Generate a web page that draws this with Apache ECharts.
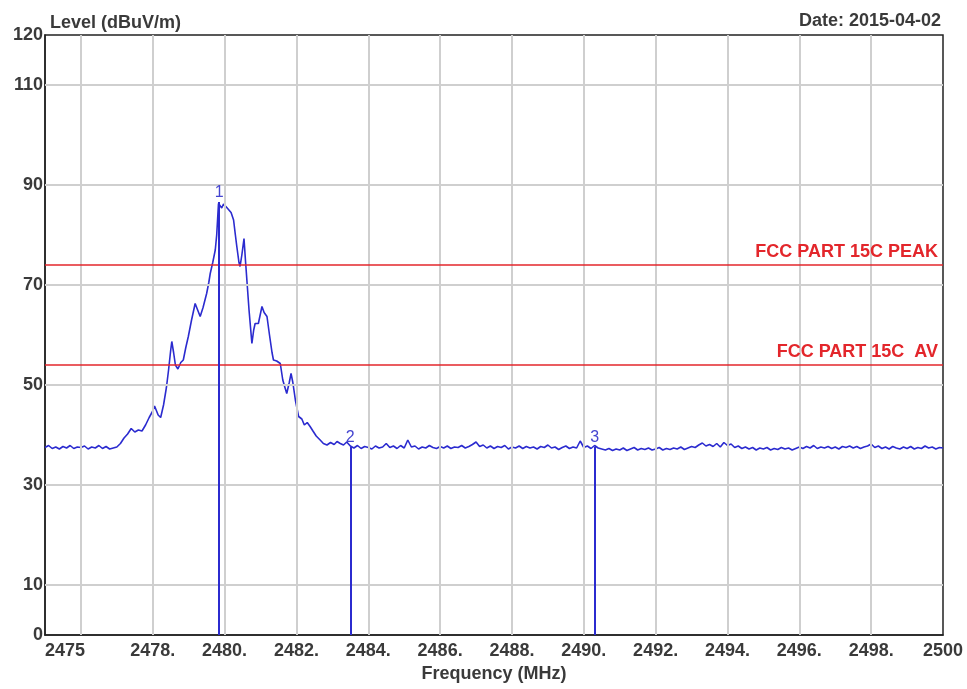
<!DOCTYPE html>
<html>
<head>
<meta charset="utf-8">
<script src="https://cdn.jsdelivr.net/npm/echarts@6/dist/echarts.min.js"></script>
<style>html,body{margin:0;padding:0;background:#fff}#c{width:967px;height:689px}</style>
</head>
<body>
<div id="c"></div>
<script>
// ---- data ----
const yTickLabels = [0, 10, 30, 50, 70, 90, 110, 120];
const yGridValues = [10, 30, 50, 70, 90, 110];
const xGridValues = [2476, 2478, 2480, 2482, 2484, 2486, 2488, 2490, 2492, 2494, 2496, 2498];
const xTickLabels = {2475: '2475', 2478: '2478.', 2480: '2480.', 2482: '2482.', 2484: '2484.', 2486: '2486.', 2488: '2488.', 2490: '2490.', 2492: '2492.', 2494: '2494.', 2496: '2496.', 2498: '2498.', 2500: '2500'};
const limitValues = [74, 54];
const limitNames = ['FCC PART 15C PEAK', 'FCC PART 15C  AV'];
const markerNames = ['1', '2', '3'];
const markerFreq = [2479.85, 2483.5, 2490.3];
const markerLevel = [86.6, 37.6, 37.6];
const trace = [
 [2475.0,37.5],[2475.1,37.9],[2475.2,37.3],[2475.3,37.6],[2475.4,37.2],[2475.5,37.7],[2475.6,37.4],[2475.7,37.9],
 [2475.8,37.3],[2475.9,37.6],[2476.0,37.5],[2476.1,37.8],[2476.2,37.2],[2476.3,37.6],[2476.4,37.4],[2476.5,37.9],
 [2476.6,37.3],[2476.7,37.7],[2476.8,37.2],[2476.9,37.4],[2477.0,37.6],[2477.1,38.3],[2477.2,39.4],
 [2477.3,40.2],[2477.4,41.3],[2477.5,40.6],[2477.6,41.0],[2477.7,40.8],[2477.8,42.0],[2477.9,43.5],[2478.0,44.8],
 [2478.05,45.8],[2478.15,44.0],[2478.22,43.5],[2478.3,46.0],[2478.38,49.5],[2478.44,53.0],[2478.5,57.0],[2478.53,58.7],
 [2478.58,56.5],[2478.63,54.0],[2478.7,53.2],[2478.78,54.5],[2478.85,55.0],[2478.92,57.5],[2478.99,59.7],[2479.08,63.0],
 [2479.18,66.3],[2479.25,65.0],[2479.32,63.7],[2479.4,65.5],[2479.5,68.3],[2479.56,70.5],[2479.6,72.3],[2479.67,74.5],
 [2479.74,77.0],[2479.78,80.0],[2479.83,86.3],[2479.88,86.0],[2479.92,85.4],[2479.97,86.2],[2480.01,86.4],[2480.06,85.5],
 [2480.11,85.9],[2480.18,84.5],[2480.25,83.0],[2480.3,80.0],[2480.34,77.7],[2480.4,74.5],[2480.43,73.7],[2480.48,76.0],
 [2480.54,79.3],[2480.58,75.0],[2480.62,71.0],[2480.68,65.0],[2480.76,58.3],[2480.81,61.0],[2480.85,62.3],[2480.94,62.3],
 [2480.99,64.0],[2481.04,65.7],[2481.1,64.5],[2481.18,63.7],[2481.25,60.0],[2481.32,56.5],[2481.36,55.0],[2481.45,54.8],
 [2481.55,54.3],[2481.62,51.0],[2481.68,49.5],[2481.73,48.3],[2481.8,50.5],[2481.85,52.3],[2481.9,50.5],[2481.97,47.0],
 [2482.06,43.7],[2482.15,43.2],[2482.22,42.0],[2482.3,42.5],[2482.38,41.7],[2482.46,40.8],[2482.55,39.8],[2482.66,39.0],
 [2482.75,38.3],[2482.85,38.0],[2482.95,38.5],[2483.05,38.1],[2483.13,38.7],[2483.22,38.3],[2483.31,38.0],[2483.4,38.6],
 [2483.5,37.8],
 [2483.6,37.4],[2483.7,37.9],[2483.8,37.3],[2483.9,37.7],[2484.0,37.5],[2484.1,37.2],[2484.2,37.8],[2484.3,37.4],
 [2484.4,37.6],[2484.5,38.3],[2484.6,37.5],[2484.7,37.8],[2484.8,37.3],[2484.9,37.9],[2485.0,37.4],[2485.1,39.0],
 [2485.2,37.6],[2485.3,37.8],[2485.4,37.2],[2485.5,37.6],[2485.6,37.4],[2485.7,37.9],[2485.8,37.5],[2485.9,37.3],
 [2486.0,37.7],[2486.1,37.4],[2486.2,37.8],[2486.3,37.3],[2486.4,37.6],[2486.5,37.5],[2486.6,37.9],[2486.7,37.4],
 [2486.8,37.7],[2486.9,38.1],[2487.0,38.6],[2487.1,37.7],[2487.2,38.0],[2487.3,37.4],[2487.4,37.8],[2487.5,37.3],
 [2487.6,37.7],[2487.7,37.5],[2487.8,37.9],[2487.9,37.2],[2488.0,37.6],[2488.1,37.4],[2488.2,37.8],[2488.3,37.3],
 [2488.4,37.7],[2488.5,37.4],[2488.6,37.6],[2488.7,37.2],[2488.8,37.7],[2488.9,37.5],[2489.0,38.0],[2489.1,37.4],
 [2489.2,37.6],[2489.3,37.1],[2489.4,37.5],[2489.5,37.8],[2489.6,37.3],[2489.7,37.6],[2489.8,37.4],[2489.9,38.8],
 [2490.0,37.5],[2490.1,37.8],[2490.2,37.3],[2490.3,37.9],[2490.4,37.4],[2490.5,37.2],[2490.6,37.0],[2490.7,37.3],
 [2490.8,36.9],[2490.9,37.2],[2491.0,37.0],[2491.1,37.4],[2491.2,36.9],[2491.3,37.2],[2491.4,37.5],[2491.5,37.0],
 [2491.6,37.3],[2491.7,37.1],[2491.8,37.4],[2491.9,37.0],[2492.0,37.2],[2492.1,37.5],[2492.2,37.0],[2492.3,37.3],
 [2492.4,37.1],[2492.5,37.4],[2492.6,37.2],[2492.7,37.6],[2492.8,37.1],[2492.9,37.4],[2493.0,37.7],[2493.1,37.5],
 [2493.2,38.0],[2493.3,38.4],[2493.4,37.8],[2493.5,38.1],[2493.6,37.7],[2493.7,38.3],[2493.8,37.6],[2493.9,38.5],
 [2494.0,37.9],[2494.1,38.2],[2494.2,37.5],[2494.3,37.8],[2494.4,37.3],[2494.5,37.6],[2494.6,37.2],[2494.7,37.5],
 [2494.8,37.0],[2494.9,37.4],[2495.0,37.2],[2495.1,37.5],[2495.2,37.0],[2495.3,37.3],[2495.4,37.1],[2495.5,37.5],
 [2495.6,37.2],[2495.7,37.4],[2495.8,37.0],[2495.9,37.3],[2496.0,37.6],[2496.1,37.3],[2496.2,37.7],[2496.3,37.4],
 [2496.4,37.9],[2496.5,37.3],[2496.6,37.6],[2496.7,37.4],[2496.8,37.7],[2496.9,37.3],[2497.0,37.6],[2497.1,37.2],
 [2497.2,37.7],[2497.3,37.5],[2497.4,37.8],[2497.5,37.4],[2497.6,37.7],[2497.7,37.3],[2497.8,37.6],[2497.9,37.8],
 [2498.0,38.2],[2498.1,37.5],[2498.2,37.8],[2498.3,37.3],[2498.4,37.6],[2498.5,37.2],[2498.6,37.7],[2498.7,37.4],
 [2498.8,37.2],[2498.9,37.6],[2499.0,37.3],[2499.1,37.7],[2499.2,37.2],[2499.3,37.5],[2499.4,37.3],[2499.5,37.8],
 [2499.6,37.4],[2499.7,37.6],[2499.8,37.2],[2499.9,37.5],[2500.0,37.4]
];

// ---- chart ----
const FONT = '"Liberation Sans", Arial, sans-serif';
const chart = echarts.init(document.getElementById('c'), null, {renderer: 'canvas'});
const gridLines = [];
yGridValues.forEach(v => gridLines.push({yAxis: v}));
xGridValues.forEach(v => gridLines.push({xAxis: v}));

const markerLines = markerNames.map((n, i) => [
  {coord: [markerFreq[i], 0]},
  {coord: [markerFreq[i], markerLevel[i]], label: {formatter: n}}
]);

const txt = {fontFamily: FONT, fontSize: 18, fontWeight: 'bold', color: '#3a3a3a'};

chart.setOption({
  animation: false,
  backgroundColor: '#fff',
  title: [
    {text: 'Level (dBuV/m)', left: 45, top: 9, textStyle: Object.assign({}, txt, {fontSize: 18})},
    {text: 'Date: 2015-04-02', right: 21, top: 7, textStyle: Object.assign({}, txt, {fontSize: 18})}
  ],
  grid: {left: 45, right: 24, top: 35, bottom: 54, show: true, borderColor: '#222', borderWidth: 1.5, backgroundColor: 'transparent'},
  xAxis: {
    type: 'value', min: 2475, max: 2500, interval: 1,
    name: 'Frequency (MHz)', nameLocation: 'middle', nameGap: 30,
    nameTextStyle: txt,
    axisLine: {show: true, lineStyle: {color: '#222', width: 1.5}},
    axisTick: {show: false},
    splitLine: {show: false},
    axisLabel: Object.assign({}, txt, {
      margin: 7,
      showMinLabel: true, showMaxLabel: true, alignMinLabel: 'left',
      formatter: v => xTickLabels[Math.round(v)] || ''
    })
  },
  yAxis: {
    type: 'value', min: 0, max: 120, interval: 10,
    axisLine: {show: true, lineStyle: {color: '#222', width: 1.5}},
    axisTick: {show: false},
    splitLine: {show: false},
    axisLabel: Object.assign({}, txt, {
      margin: 2,
      showMinLabel: true, showMaxLabel: true,
      formatter: v => yTickLabels.indexOf(Math.round(v)) >= 0 ? String(Math.round(v)) : ''
    })
  },
  series: [
    {
      type: 'line', data: [], silent: true, z: 1,
      markLine: {
        silent: true, symbol: 'none', animation: false,
        label: {show: false},
        lineStyle: {color: '#cfcfcf', width: 2, type: 'solid'},
        data: gridLines
      }
    },
    {
      type: 'line', data: [], silent: true, z: 3,
      markLine: {
        silent: true, symbol: 'none', animation: false,
        lineStyle: {color: '#e3262b', width: 1.5, type: 'solid'},
        label: {show: true, position: 'insideEndTop', distance: [5, 4], color: '#e3262b', fontFamily: FONT, fontSize: 18, fontWeight: 'bold'},
        data: limitValues.map((v, i) => ({yAxis: v, label: {formatter: limitNames[i]}}))
      }
    },
    {
      type: 'line', data: trace, showSymbol: false, z: 4,
      lineStyle: {color: '#2b2bcf', width: 1.6},
      markLine: {
        silent: true, symbol: 'none', animation: false,
        lineStyle: {color: '#2b2bcf', width: 2, type: 'solid'},
        label: {show: true, position: 'end', distance: 1, color: '#4545d0', fontFamily: FONT, fontSize: 16},
        data: markerLines
      }
    }
  ]
});
</script>
</body>
</html>
